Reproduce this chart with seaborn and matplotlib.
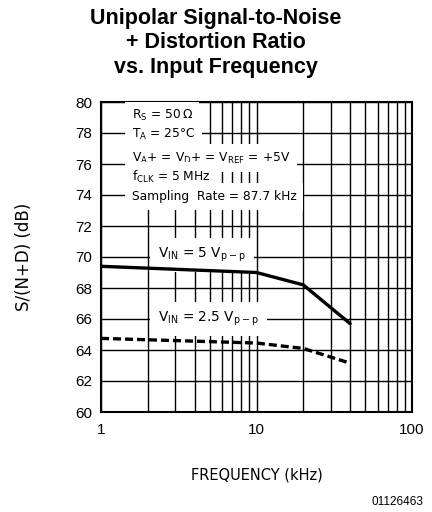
import matplotlib
matplotlib.use("Agg")
import matplotlib.pyplot as plt
import seaborn as sns
import pandas as pd

# Data
freq_5v = [1, 10, 20, 40]
snd_5v = [69.4, 69.0, 68.2, 65.7]
freq_25v = [1, 10, 20, 40]
snd_25v = [64.75, 64.45, 64.1, 63.15]

title_lines = "Unipolar Signal-to-Noise\n+ Distortion Ratio\nvs. Input Frequency"
conditions = [
    r"R$_S$ = 50$\,\Omega$",
    r"T$_A$ = 25°C",
    r"V$_A$+ = V$_D$+ = V$_{REF}$ = +5V",
    r"f$_{CLK}$ = 5 MHz",
    r"Sampling  Rate = 87.7 kHz",
]
label_5v = r"V$_{IN}$ = 5 V$_{p-p}$"
label_25v = r"V$_{IN}$ = 2.5 V$_{p-p}$"
yticks = list(range(60, 81, 2))
xticks = [1, 10, 100]

sns.set_style("white")
plt.rcParams['font.family'] = ['Liberation Sans', 'DejaVu Sans']
plt.rcParams['mathtext.default'] = 'regular'
for k in ['text.color', 'axes.labelcolor', 'xtick.color', 'ytick.color', 'axes.edgecolor']:
    plt.rcParams[k] = 'black'

df = pd.concat([
    pd.DataFrame({"f": freq_5v, "s": snd_5v, "series": "5V"}),
    pd.DataFrame({"f": freq_25v, "s": snd_25v, "series": "2.5V"}),
])

fig = plt.figure(figsize=(4.32, 5.12), dpi=100)
ax = fig.add_axes([101/432, 1-412/512, 311/432, 310/512])

sns.lineplot(data=df[df.series == "5V"], x="f", y="s", ax=ax, color="black",
             linewidth=2.4, legend=False, zorder=4)
sns.lineplot(data=df[df.series == "2.5V"], x="f", y="s", ax=ax, color="black",
             linewidth=2.4, linestyle=(0, (2.4, 1.2)), legend=False, zorder=4)

ax.set_xscale("log")
ax.set_xlim(1, 100)
ax.set_ylim(60, 80)
ax.set_yticks(yticks)
ax.set_yticklabels([str(v) for v in yticks])
ax.set_xticks(xticks)
ax.set_xticklabels([str(v) for v in xticks])
ax.set_xticks([v * d for d in (1, 10) for v in range(2, 10)], minor=True)
ax.xaxis.set_minor_formatter(matplotlib.ticker.NullFormatter())
ax.grid(True, which="both", axis="x", color="black", linewidth=1.0, zorder=1)
ax.grid(True, which="major", axis="y", color="black", linewidth=1.0, zorder=1)
ax.set_axisbelow(True)
ax.tick_params(axis="both", which="both", length=0, labelsize=11, colors="black")
ax.tick_params(axis="y", pad=6.5)
ax.tick_params(axis="x", pad=8)
for sp in ax.spines.values():
    sp.set_color("black")
    sp.set_linewidth(1.5)

ax.set_xlabel("FREQUENCY (kHz)", fontsize=10.5, family=['DejaVu Sans'])
ax.set_ylabel("S/(N+D) (dB)", fontsize=12, family=['DejaVu Sans'])
ax.xaxis.set_label_coords(0.5, (412 - 468) / 310)
ax.yaxis.set_label_coords((33 - 101) / 311, 0.5)

ys = [78.88, 77.70, 76.15, 74.92, 73.68]
for txt, yv in zip(conditions, ys):
    ax.text(1.575, yv, txt, fontsize=8.8, va="baseline", ha="left",
            bbox=dict(facecolor="white", edgecolor="none", boxstyle="square,pad=0.55"),
            zorder=3, family=['DejaVu Sans'])

ax.text(2.33, 69.94, label_5v, fontsize=9.8, va="baseline", ha="left",
        bbox=dict(facecolor="white", edgecolor="none", boxstyle="square,pad=0.6"),
        zorder=3, family=['DejaVu Sans'])
ax.text(2.33, 65.83, label_25v, fontsize=9.8, va="baseline", ha="left",
        bbox=dict(facecolor="white", edgecolor="none", boxstyle="square,pad=0.6"),
        zorder=3, family=['DejaVu Sans'])

fig.text(0.5, 1 - 43/512, title_lines, ha="center", va="center", fontsize=15.5,
         fontweight="bold", linespacing=1.2)
fig.text(423/432, 1 - 502/512, "01126463", ha="right", va="center", fontsize=8.5)

fig.savefig("out.png", dpi=100)
